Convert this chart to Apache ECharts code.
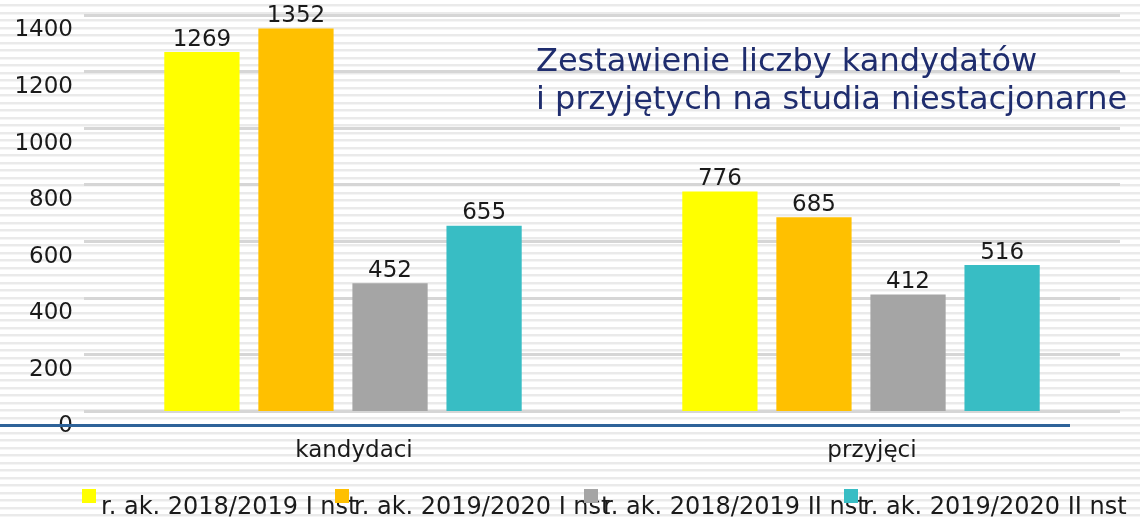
<!DOCTYPE html>
<html>
<head>
<meta charset="utf-8">
<script src="https://cdn.jsdelivr.net/npm/echarts@6/dist/echarts.min.js"></script>
<style>
  html, body { margin: 0; padding: 0; }
  body {
    width: 1140px;
    height: 518px;
    background-color: #fff;
    background-image: repeating-linear-gradient(to bottom,
      #ffffff 0px, #ffffff 4.5px,
      #eaeaea 4.5px, #eaeaea 6.5px,
      #f5f5f5 6.5px, #f5f5f5 7.5px);
  }
  #chart { width: 1140px; height: 518px; }
</style>
</head>
<body>
<div id="chart"></div>
<script>
const categories = ['kandydaci', 'przyjęci']
const seriesNames = [
  'r. ak. 2018/2019 I nst',
  'r. ak. 2019/2020 I nst',
  'r. ak. 2018/2019 II nst',
  'r. ak. 2019/2020 II nst'
]
const values2018I = [1269, 776]
const values2019I = [1352, 685]
const values2018II = [452, 412]
const values2019II = [655, 516]
const yTicks = [0, 200, 400, 600, 800, 1000, 1200, 1400]

const COLORS = ['#ffff00', '#ffc000', '#a5a5a5', '#38bdc4']
const FONT = 'DejaVu Sans'
const allValues = [values2018I, values2019I, values2018II, values2019II]

const chart = echarts.init(document.getElementById('chart'))

const series = seriesNames.map((name, i) => ({
  name,
  type: 'bar',
  data: allValues[i],
  itemStyle: { color: COLORS[i] },
  barGap: '25%',
  barCategoryGap: '31%',
  label: {
    show: true,
    position: 'top',
    distance: 1,
    fontFamily: FONT,
    fontSize: 23,
    color: '#1a1a1a'
  }
}))

// each legend entry placed on its own, they overlap like in the original
const legendLefts = [82, 335, 584, 844]
const legends = seriesNames.map((name, i) => ({
  data: [name],
  left: legendLefts[i],
  top: 489,
  icon: 'rect',
  itemWidth: 14,
  itemHeight: 14,
  itemGap: 0,
  padding: 0,
  formatter: '{t|{name}}',
  textStyle: {
    rich: {
      t: {
        fontFamily: FONT,
        fontSize: 24,
        color: '#1a1a1a',
        padding: [24, 0, 0, 0]
      }
    }
  }
}))

chart.setOption({
  backgroundColor: 'transparent',
  animation: false,
  title: {
    text: 'Zestawienie liczby kandydatów\ni przyjętych na studia niestacjonarne',
    left: 536,
    top: 44,
    padding: 0,
    textStyle: {
      fontFamily: FONT,
      fontSize: 32,
      fontWeight: 'normal',
      color: '#1f2d6e',
      lineHeight: 38
    }
  },
  legend: legends,
  grid: {
    left: 84,
    right: 20,
    top: 15,
    bottom: 107,
    containLabel: false
  },
  xAxis: {
    type: 'category',
    data: categories,
    axisLine: { show: false },
    axisTick: { show: false },
    axisLabel: {
      margin: 29,
      fontFamily: FONT,
      fontSize: 23,
      color: '#1a1a1a',
      padding: [0, 0, 0, 22]
    }
  },
  yAxis: {
    type: 'value',
    min: yTicks[0],
    max: yTicks[yTicks.length - 1],
    interval: yTicks[1] - yTicks[0],
    axisLine: { show: false },
    axisTick: { show: false },
    splitLine: { lineStyle: { color: '#d6d6d6', width: 3 } },
    axisLabel: {
      margin: 11,
      fontFamily: FONT,
      fontSize: 23,
      color: '#1a1a1a',
      verticalAlign: 'top',
      padding: [4, 0, 0, 0],
      formatter: (v) => String(v)
    }
  },
  graphic: [{
    type: 'rect',
    shape: { x: 0, y: 424, width: 1070, height: 3 },
    style: { fill: '#2e6399' },
    z: 10
  }],
  series
})
</script>
</body>
</html>
